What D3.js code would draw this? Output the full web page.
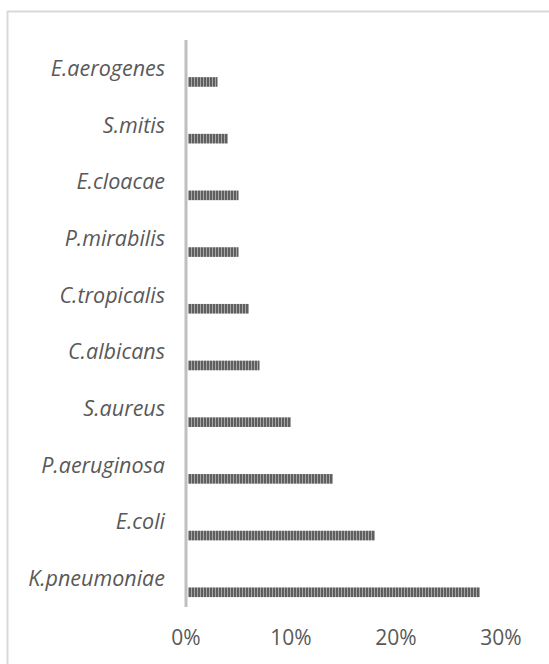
<!DOCTYPE html>
<html>
<head>
<meta charset="utf-8">
<script src="https://cdn.jsdelivr.net/npm/d3@7"></script>
<style>
  html, body { margin: 0; padding: 0; background: #fff; }
  svg { display: block; }
</style>
</head>
<body>
<svg id="chart" width="549" height="664"></svg>
<script>
const categories = ["E.aerogenes", "S.mitis", "E.cloacae", "P.mirabilis", "C.tropicalis",
  "C.albicans", "S.aureus", "P.aeruginosa", "E.coli", "K.pneumoniae"];
const values = [0.03, 0.04, 0.05, 0.05, 0.06, 0.07, 0.10, 0.14, 0.18, 0.28];
const tickValues = [0, 0.1, 0.2, 0.3];
const tickLabels = ["0%", "10%", "20%", "30%"];

const svg = d3.select("#chart");
const textColor = "#595959";

// outer chart border
svg.append("rect")
  .attr("x", 7.5).attr("y", 11.5)
  .attr("width", 545).attr("height", 660)
  .attr("fill", "#fff")
  .attr("stroke", "#d9d9d9").attr("stroke-width", 2);

// pattern for bars (dark vertical stripes)
const defs = svg.append("defs");
const pat = defs.append("pattern")
  .attr("id", "vstripe")
  .attr("patternUnits", "userSpaceOnUse")
  .attr("width", 3).attr("height", 10);
pat.append("rect").attr("width", 3).attr("height", 10).attr("fill", "#a6a6a6");
pat.append("rect").attr("width", 2).attr("height", 10).attr("fill", "#5f5f5f");

const x = d3.scaleLinear().domain([0, 0.3]).range([186, 501]);
const y = d3.scaleBand().domain(categories).range([40, 607]);
const bw = y.bandwidth();

// bars
svg.append("g").selectAll("rect")
  .data(categories)
  .join("rect")
  .attr("x", x(0) + 2)
  .attr("y", (d) => y(d) + bw * 0.655)
  .attr("width", (d, i) => x(values[i]) - x(0) - 2)
  .attr("height", bw * 0.17)
  .attr("fill", "url(#vstripe)");

// vertical axis line
svg.append("line")
  .attr("x1", x(0)).attr("x2", x(0))
  .attr("y1", y.range()[0]).attr("y2", y.range()[1])
  .attr("stroke", "#bfbfbf").attr("stroke-width", 3);

// category labels
svg.append("g").selectAll("text")
  .data(categories)
  .join("text")
  .attr("x", 165)
  .attr("y", (d) => y(d) + bw / 2)
  .attr("dy", "0.35em")
  .attr("text-anchor", "end")
  .attr("font-family", "'Open Sans', sans-serif")
  .attr("font-style", "italic")
  .attr("font-size", 21.5)
  .attr("fill", textColor)
  .text((d) => d);

// x tick labels
svg.append("g").selectAll("text")
  .data(tickValues)
  .join("text")
  .attr("x", (d) => x(d))
  .attr("y", 638)
  .attr("dy", "0.35em")
  .attr("text-anchor", "middle")
  .attr("font-family", "'Open Sans', sans-serif")
  .attr("font-size", 21)
  .attr("fill", textColor)
  .text((d, i) => tickLabels[i]);
</script>
</body>
</html>
